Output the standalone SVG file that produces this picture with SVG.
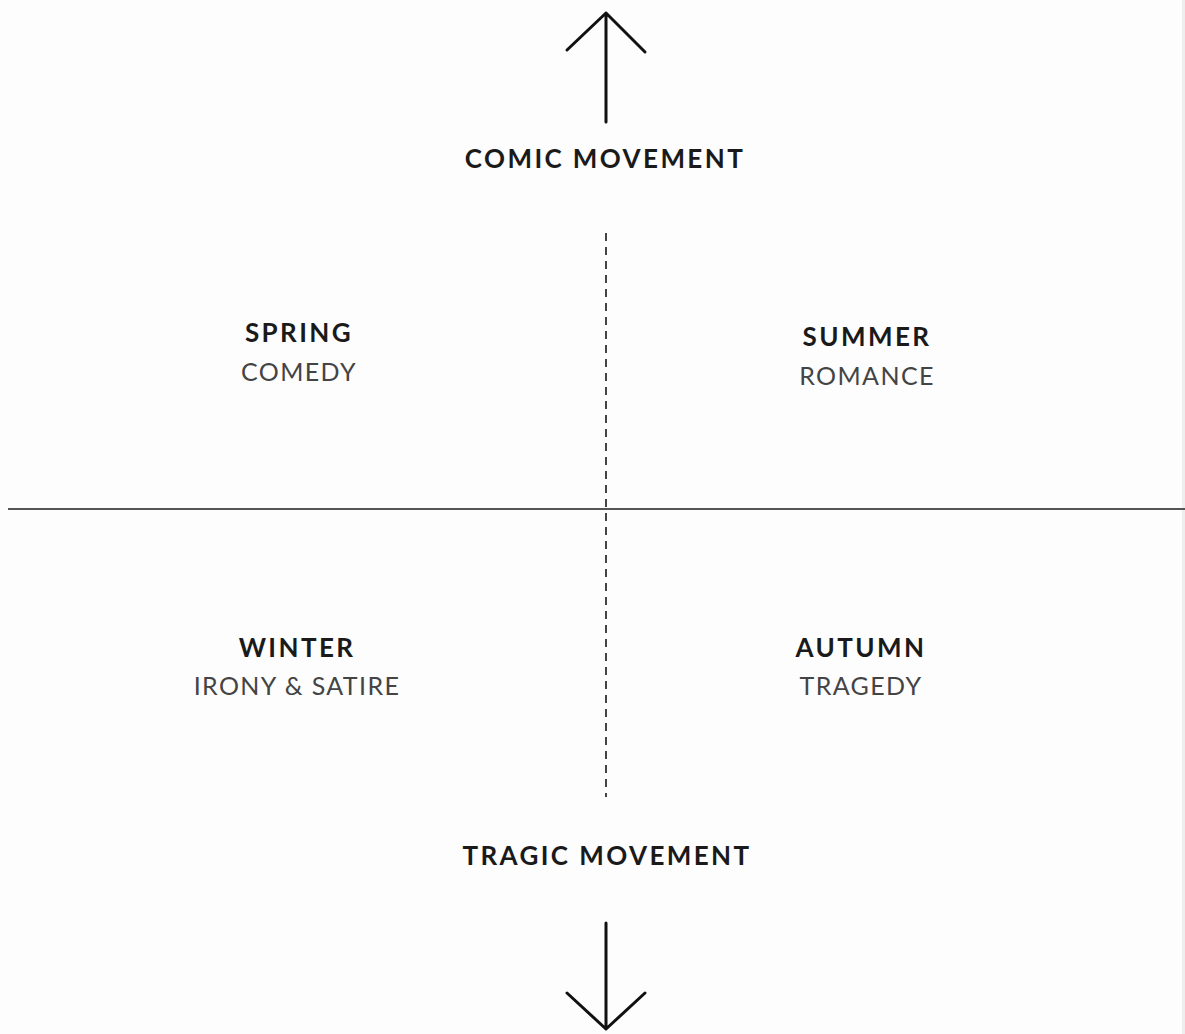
<svg xmlns="http://www.w3.org/2000/svg" width="1185" height="1034" viewBox="0 0 1185 1034">
<style>
.t{font-family:Lato,"Open Sans",sans-serif;text-anchor:middle;}
.b{font-weight:700;font-size:26px;fill:#1a1a1a;letter-spacing:2.4px;}
.r{font-weight:400;font-size:25px;fill:#444;letter-spacing:1.4px;}
.ln{stroke:#111;stroke-width:3;fill:none;stroke-linecap:round;stroke-linejoin:round;}
</style>
<rect width="1185" height="1034" fill="#fdfdfd"/>
<rect x="1182" y="0" width="3" height="1034" fill="#eeeeee"/>
<g id="connectors">
<line x1="8" y1="509" x2="1185" y2="509" stroke="#555" stroke-width="2"/>
<line x1="606" y1="233" x2="606" y2="797" stroke="#444" stroke-width="2" stroke-dasharray="8,6"/>
<path class="ln" d="M606 122 V13 M567 50 L606 13 L645 52"/>
<path class="ln" d="M606 923 V1029 M567 993 L606 1029 L645 993"/>
</g>
<g id="comic"><text class="t b" x="605" y="168">COMIC MOVEMENT</text></g>
<g id="spring"><text class="t b" x="299" y="342">SPRING</text><text class="t r" x="299" y="381">COMEDY</text></g>
<g id="summer"><text class="t b" x="867" y="346">SUMMER</text><text class="t r" x="867" y="385">ROMANCE</text></g>
<g id="winter"><text class="t b" x="297" y="657">WINTER</text><text class="t r" x="297" y="695">IRONY &amp; SATIRE</text></g>
<g id="autumn"><text class="t b" x="861" y="657">AUTUMN</text><text class="t r" x="861" y="695">TRAGEDY</text></g>
<g id="tragic"><text class="t b" x="607" y="865">TRAGIC MOVEMENT</text></g>
</svg>
